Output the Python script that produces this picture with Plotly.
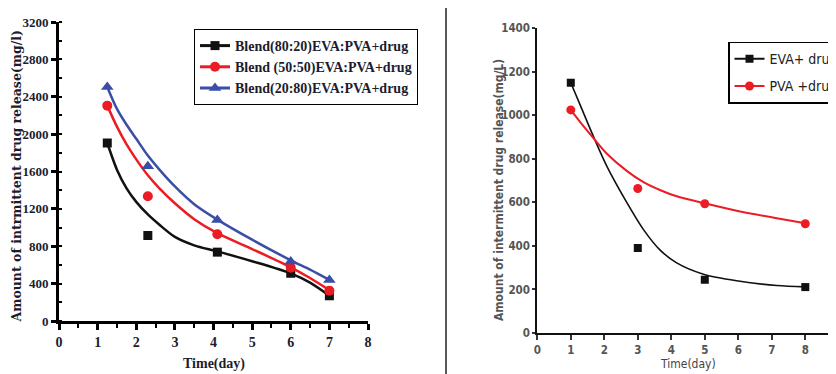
import plotly.graph_objects as go

# ---------------- Left panel data ----------------
days_l = [1.25, 2.3, 4.1, 6.0, 7.0]
blend_80_20 = [1905, 915, 737, 511, 270]
blend_50_50 = [2305, 1336, 929, 571, 325]
blend_20_80 = [2505, 1655, 1082, 636, 439]

fit_days_l = [1.25, 1.5, 1.75, 2.0, 2.3, 2.6, 3.0, 3.5, 4.1, 5.0, 6.0, 6.5, 7.0]
fit_80_20 = [1905, 1620, 1420, 1275, 1140, 1030, 900, 810, 745, 640, 510, 410, 270]
fit_50_50 = [2305, 2080, 1890, 1730, 1560, 1420, 1260, 1090, 940, 770, 575, 460, 330]
fit_20_80 = [2505, 2270, 2100, 1950, 1770, 1620, 1440, 1250, 1085, 870, 650, 550, 440]

names_l = ["Blend(80:20)EVA:PVA+drug", "Blend (50:50)EVA:PVA+drug", "Blend(20:80)EVA:PVA+drug"]
y_ticks_l = [0, 400, 800, 1200, 1600, 2000, 2400, 2800, 3200]

# ---------------- Right panel data ----------------
days_r = [1, 3, 5, 8]
eva_drug = [1150, 390, 245, 211]
pva_drug = [1025, 664, 594, 502]

fit_days_r = [1, 1.3, 1.72, 2.07, 2.67, 3.17, 3.66, 4.16, 4.96, 5.95, 7.15, 8]
fit_eva = [1150, 1040, 887, 768, 600, 475, 382, 322, 270, 240, 218, 212]
fit_pva = [1025, 965, 887, 825, 745, 693, 657, 628, 597, 562, 527, 504]

names_r = ["EVA+ drug", "PVA +drug"]

BLACK = "#111111"
RED = "#ec1c24"
BLUE = "#3a4ea8"

serif = "Liberation Serif, Times New Roman, serif"
wide_serif = "DejaVu Serif, Liberation Serif, serif"
narrow = "DejaVu Sans Condensed, Liberation Sans Narrow, Arial Narrow, Liberation Sans, sans-serif"

# page has an 8px body margin: figure is placed at (8, 8) in the window
OFF = 8
W, H = 836 - OFF, 374 - OFF


def fx(px):
    return (px - OFF) / W


def fy(py):
    return 1 - (py - OFF) / H


fig = go.Figure()

left_series = [
    (blend_80_20, fit_80_20, BLACK, "square", 9, names_l[0]),
    (blend_50_50, fit_50_50, RED, "circle", 10, names_l[1]),
    (blend_20_80, fit_20_80, BLUE, "triangle-up", 11, names_l[2]),
]
for pts, fit, col, sym, sz, nm in left_series:
    fig.add_trace(go.Scatter(x=fit_days_l, y=fit, mode="lines",
                             line=dict(color=col, width=2.5, shape="spline", smoothing=0.8),
                             showlegend=False, xaxis="x", yaxis="y", hoverinfo="skip"))
    fig.add_trace(go.Scatter(x=days_l, y=pts, mode="markers", marker=dict(color=col, symbol=sym, size=sz),
                             showlegend=False, xaxis="x", yaxis="y"))
    fig.add_trace(go.Scatter(x=[None], y=[None], mode="lines+markers", name=nm,
                             line=dict(color=col, width=3), marker=dict(color=col, symbol=sym, size=sz),
                             xaxis="x", yaxis="y", legend="legend"))

right_series = [
    (eva_drug, fit_eva, BLACK, "square", 8, 1.6, names_r[0], "g1"),
    (pva_drug, fit_pva, RED, "circle", 9, 2.0, names_r[1], "g2"),
]
for pts, fit, col, sym, sz, lw, nm, grp in right_series:
    fig.add_trace(go.Scatter(x=fit_days_r, y=fit, mode="lines",
                             line=dict(color=col, width=lw, shape="spline", smoothing=0.8),
                             showlegend=False, xaxis="x2", yaxis="y2", hoverinfo="skip"))
    fig.add_trace(go.Scatter(x=days_r, y=pts, mode="markers", marker=dict(color=col, symbol=sym, size=sz),
                             showlegend=False, xaxis="x2", yaxis="y2"))
    fig.add_trace(go.Scatter(x=[None], y=[None], mode="lines+markers", name=nm, legendgroup=grp,
                             line=dict(color=col, width=2), marker=dict(color=col, symbol=sym, size=sz),
                             xaxis="x2", yaxis="y2", legend="legend2"))

left_tick_font = dict(family=serif, size=13, color="#1c1c2e", weight="bold")
right_tick_font = dict(family=narrow, size=11.5, color="#555555", weight="bold")

right_range_end = (836 - 537.3) / 33.5

fig.update_layout(
    width=W, height=H,
    paper_bgcolor="white", plot_bgcolor="white",
    margin=dict(l=0, r=0, t=0, b=0, autoexpand=False),
    xaxis=dict(domain=[fx(59), fx(368)], range=[0, 8], dtick=1, anchor="y",
               showline=True, linecolor="black", linewidth=3, showgrid=False, zeroline=False,
               ticks="outside", ticklen=6, tickwidth=2.5, tickcolor="black",
               minor=dict(dtick=0.5, ticks="outside", ticklen=4, tickwidth=2, tickcolor="black"),
               tickfont=dict(family=serif, size=14, color="#1c1c2e", weight="bold")),
    yaxis=dict(domain=[fy(321), fy(22)], range=[0, 3200], tickvals=y_ticks_l, anchor="x",
               showline=True, linecolor="black", linewidth=3, showgrid=False, zeroline=False,
               ticks="outside", ticklen=5, tickwidth=2.5, tickcolor="black",
               minor=dict(dtick=200, ticks="inside", ticklen=3, tickwidth=2, tickcolor="black"),
               tickfont=left_tick_font),
    xaxis2=dict(domain=[fx(537.3), 1.0], range=[0, right_range_end], dtick=1, anchor="y2",
                showline=True, linecolor="#111", linewidth=2, showgrid=False, zeroline=False,
                ticks="outside", ticklen=5, tickwidth=1.5, tickcolor="#333",
                tickfont=right_tick_font),
    yaxis2=dict(domain=[fy(333), fy(28.3)], range=[0, 1400], dtick=200, anchor="x2",
                showline=True, linecolor="#111", linewidth=2, showgrid=False, zeroline=False,
                ticks="outside", ticklen=3, tickwidth=1.5, tickcolor="#333",
                tickfont=right_tick_font),
    legend=dict(x=fx(194), y=fy(29), xanchor="left", yanchor="top",
                bordercolor="black", borderwidth=1, bgcolor="white",
                font=dict(family=serif, size=14, color="#1c1c2e", weight="bold"),
                tracegroupgap=0, itemwidth=30),
    legend2=dict(x=fx(728), y=fy(41.7), xanchor="left", yanchor="top",
                 bordercolor="black", borderwidth=1.5, bgcolor="white",
                 font=dict(family=narrow, size=14, color="#222"),
                 tracegroupgap=6, itemwidth=30),
    shapes=[dict(type="line", xref="paper", yref="paper", x0=fx(446), x1=fx(446), y0=0, y1=1.03,
                 line=dict(color="#222", width=1.5))],
    annotations=[
        dict(text="Time(day)", x=fx(214), y=fy(364), xref="paper", yref="paper", showarrow=False,
             xanchor="center", yanchor="middle", font=dict(family=serif, size=14, color="#1c1c2e", weight="bold")),
        dict(text="Amount of intrmittent drug release(mg/l)", x=fx(16.5), y=fy(177), xref="paper", yref="paper",
             showarrow=False, textangle=-90, xanchor="center", yanchor="middle",
             font=dict(family=wide_serif, size=12.5, color="#1c1c2e", weight="bold")),
        dict(text="Time(day)", x=fx(688), y=fy(364), xref="paper", yref="paper", showarrow=False,
             xanchor="center", yanchor="middle", font=dict(family=narrow, size=12, color="#444")),
        dict(text="Amount of intermittent drug release(mg/L)", x=fx(499), y=fy(190), xref="paper", yref="paper",
             showarrow=False, textangle=-90, xanchor="center", yanchor="middle",
             font=dict(family=narrow, size=12, color="#555", weight="bold")),
    ],
)

fig.write_html("out.html")
